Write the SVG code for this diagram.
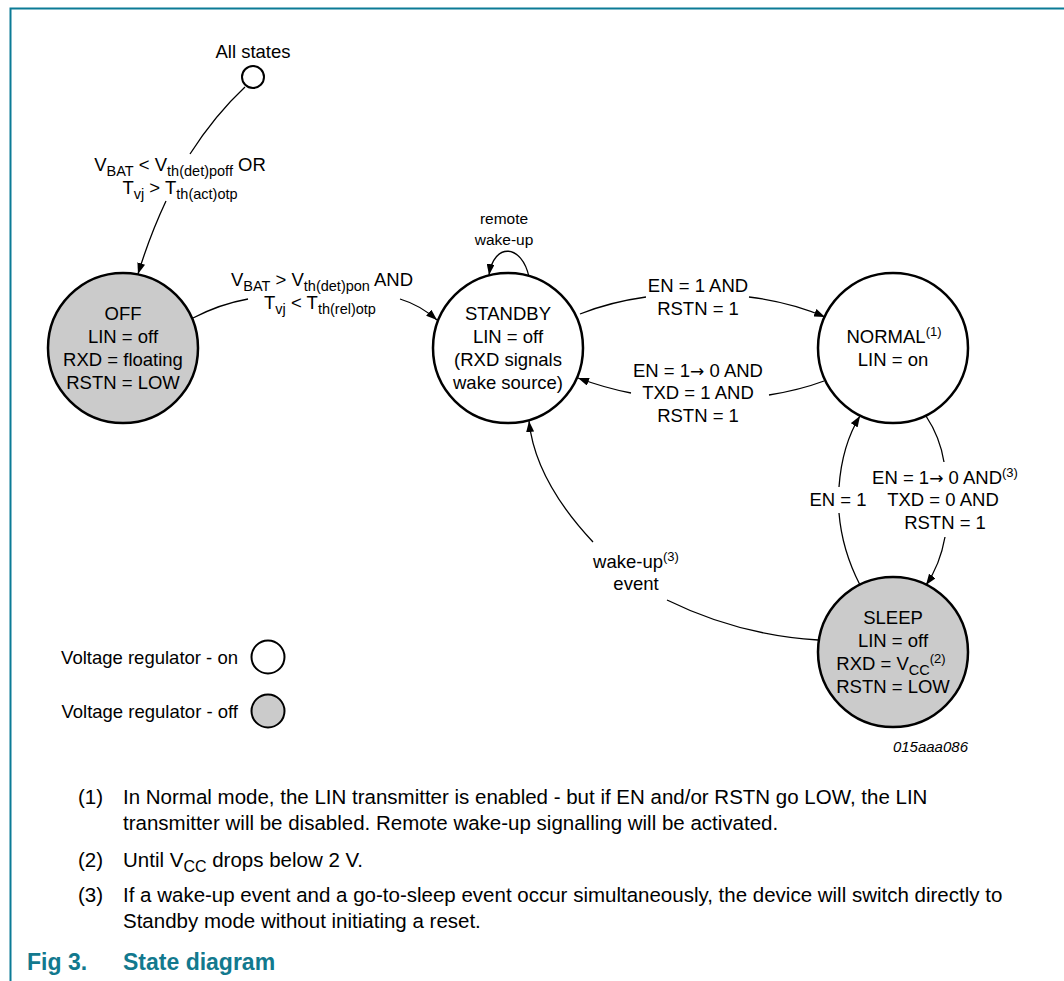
<svg xmlns="http://www.w3.org/2000/svg" width="1064" height="981" viewBox="0 0 1064 981">
<style>
text{font-family:"Liberation Sans",Arial,Helvetica,sans-serif;fill:#000}
.t{font-size:18.5px;text-anchor:middle}
.sm{font-size:15.5px;text-anchor:middle}
.s{font-size:14.5px}
.sup{font-size:13px}
.arr{font-family:"DejaVu Sans",sans-serif;font-size:17px}
.node{stroke:#000;stroke-width:2.5}
.on{fill:#fff}
.off{fill:#cbcbcb}
.e{fill:none;stroke:#000;stroke-width:1.3}
.a{marker-end:url(#ah)}
.lg{font-size:18.5px;text-anchor:end}
.fn{font-size:20.5px}
.cap{font-size:23px;font-weight:bold;fill:#12798e}
.id{font-size:15px;font-style:italic;text-anchor:end}
</style>
<defs>
<marker id="ah" markerUnits="userSpaceOnUse" markerWidth="12" markerHeight="8" refX="11" refY="4" orient="auto"><path d="M0,0 L11,4 L0,8 z" fill="#000"/></marker>
</defs>
<rect x="0" y="0" width="1064" height="981" fill="#fff"/>
<path d="M10.5 981 V8.5 H1064" fill="none" stroke="#0b7b96" stroke-width="2"/>

<g id="connectors">
<path class="e" d="M245 87 Q215 115 190 154"/>
<path class="e a" d="M166 201 Q150 235 138 274"/>
<path class="e" d="M193 318 Q220 304 248 299"/>
<path class="e a" d="M400 299 Q420 305 437 320"/>
<path class="e a" d="M529 277 C522 244 494 242 489 275"/>
<path class="e" d="M580 314 Q610 302 646 297"/>
<path class="e a" d="M749 297 Q790 302 825 317"/>
<path class="e" d="M824 381 Q800 390 769 395"/>
<path class="e a" d="M631 393 Q605 388 578 378"/>
<path class="e" d="M926 416 Q940 437 944 462"/>
<path class="e a" d="M945 537 Q940 565 926 585"/>
<path class="e" d="M860 585 Q842 550 839 513"/>
<path class="e a" d="M839 487 Q842 445 860 416"/>
<path class="e" d="M818 640 Q738 635 667 600"/>
<path class="e a" d="M593 542 Q535 480 529 421"/>
</g>

<g id="labels">
<text class="t" x="180" y="171">V<tspan class="s" dy="5">BAT</tspan><tspan dy="-5"> &lt; V</tspan><tspan class="s" dy="5">th(det)poff</tspan><tspan dy="-5"> OR</tspan></text>
<text class="t" x="180" y="194">T<tspan class="s" dy="5">vj</tspan><tspan dy="-5"> &gt; T</tspan><tspan class="s" dy="5">th(act)otp</tspan></text>
<text class="t" x="322" y="286">V<tspan class="s" dy="5">BAT</tspan><tspan dy="-5"> &gt; V</tspan><tspan class="s" dy="5">th(det)pon</tspan><tspan dy="-5"> AND</tspan></text>
<text class="t" x="320" y="309">T<tspan class="s" dy="5">vj</tspan><tspan dy="-5"> &lt; T</tspan><tspan class="s" dy="5">th(rel)otp</tspan></text>
<text class="sm" x="504" y="224">remote</text>
<text class="sm" x="504" y="245">wake-up</text>
<text class="t" x="698" y="292">EN = 1 AND</text>
<text class="t" x="698" y="315">RSTN = 1</text>
<text class="t" x="698" y="377">EN = 1<tspan class="arr">→</tspan> 0 AND</text>
<text class="t" x="698" y="399">TXD = 1 AND</text>
<text class="t" x="698" y="422">RSTN = 1</text>
<text class="t" x="945" y="484">EN = 1<tspan class="arr">→</tspan> 0 AND<tspan class="sup" dy="-7">(3)</tspan></text>
<text class="t" x="943" y="506">TXD = 0 AND</text>
<text class="t" x="945" y="529">RSTN = 1</text>
<text class="t" x="838" y="506">EN = 1</text>
<text class="t" x="636" y="568">wake-up<tspan class="sup" dy="-7">(3)</tspan></text>
<text class="t" x="636" y="590">event</text>
</g>

<g id="all-states">
<text class="t" x="253" y="58">All states</text>
<circle cx="253" cy="77" r="11" fill="#fff" stroke="#000" stroke-width="2"/>
</g>

<g id="off">
<circle class="node off" cx="123" cy="348" r="75"/>
<text class="t" x="123" y="320">OFF</text>
<text class="t" x="123" y="343">LIN = off</text>
<text class="t" x="123" y="366">RXD = floating</text>
<text class="t" x="123" y="389">RSTN = LOW</text>
</g>

<g id="standby">
<circle class="node on" cx="508" cy="348" r="75"/>
<text class="t" x="508" y="320">STANDBY</text>
<text class="t" x="508" y="343">LIN = off</text>
<text class="t" x="508" y="366">(RXD signals</text>
<text class="t" x="508" y="389">wake source)</text>
</g>

<g id="normal">
<circle class="node on" cx="893" cy="348" r="75"/>
<text class="t" x="894" y="343">NORMAL<tspan class="sup" dy="-7">(1)</tspan></text>
<text class="t" x="893" y="366">LIN = on</text>
</g>

<g id="sleep">
<circle class="node off" cx="893" cy="652" r="75"/>
<text class="t" x="893" y="624">SLEEP</text>
<text class="t" x="893" y="647">LIN = off</text>
<text class="t" x="891" y="670">RXD = V<tspan class="s" dy="5">CC</tspan><tspan class="sup" dy="-12">(2)</tspan></text>
<text class="t" x="893" y="693">RSTN = LOW</text>
</g>

<g id="legend">
<text class="lg" x="238" y="664">Voltage regulator - on</text>
<circle cx="268" cy="657" r="16.5" fill="#fff" stroke="#000" stroke-width="2"/>
<text class="lg" x="238" y="718">Voltage regulator - off</text>
<circle cx="268" cy="711" r="16.5" fill="#cbcbcb" stroke="#000" stroke-width="2"/>
</g>

<text class="id" x="968" y="752">015aaa086</text>

<g id="footnotes">
<text class="fn" x="78" y="804">(1)</text>
<text class="fn" x="123" y="804">In Normal mode, the LIN transmitter is enabled - but if EN and/or RSTN go LOW, the LIN</text>
<text class="fn" x="123" y="830">transmitter will be disabled. Remote wake-up signalling will be activated.</text>
<text class="fn" x="78" y="867">(2)</text>
<text class="fn" x="123" y="867">Until V<tspan style="font-size:16px" dy="5">CC</tspan><tspan dy="-5"> drops below 2 V.</tspan></text>
<text class="fn" x="78" y="902">(3)</text>
<text class="fn" x="123" y="902">If a wake-up event and a go-to-sleep event occur simultaneously, the device will switch directly to</text>
<text class="fn" x="123" y="928">Standby mode without initiating a reset.</text>
</g>

<g id="caption">
<text class="cap" x="27" y="970">Fig 3.</text>
<text class="cap" x="123" y="970">State diagram</text>
</g>
</svg>
